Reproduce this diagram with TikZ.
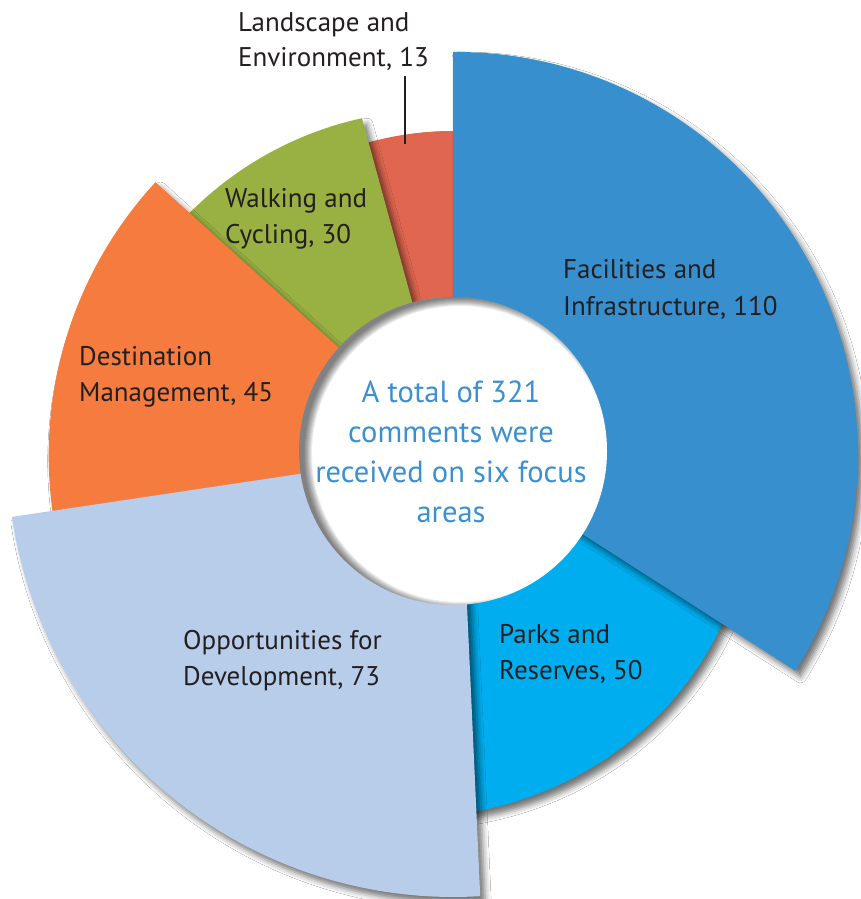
\documentclass[tikz,border=0pt]{standalone}
\usepackage{fontspec}
\setmainfont{PT Sans}
\usetikzlibrary{shadows.blur}
\definecolor{facil}{HTML}{388FCE}
\definecolor{parks}{HTML}{00AEEF}
\definecolor{oppor}{HTML}{B7CDEA}
\definecolor{desti}{HTML}{F57C3E}
\definecolor{walki}{HTML}{99B043}
\definecolor{lands}{HTML}{E06650}
\definecolor{centertext}{HTML}{3A90D0}
\definecolor{labeltext}{HTML}{231F20}
\begin{document}
\begin{tikzpicture}[x=1pt,y=1pt,
  wedgeshadow/.style={blur shadow={shadow xshift=5pt, shadow yshift=-6pt, shadow blur radius=6pt, shadow opacity=55}},
  lbl/.style={inner sep=0pt, anchor=base west, align=left, text=labeltext},
  ctr/.style={inner sep=0pt, anchor=base, text=centertext, font=\fontsize{30.5}{40}\selectfont},
]
\useasboundingbox (0,0) rectangle (861,899);
\fill[white] (0,0) rectangle (861,899);
\begin{scope}[shift={(453,448)}]
  % Parks and Reserves
  \fill[parks, wedgeshadow] (0,0) -- plot[domain=-29:-95, samples=80] (\x:{320+(-32.7-(\x))*0.7664}) -- cycle;
  % Landscape and Environment
  \fill[lands, wedgeshadow] (0,0) -- plot[domain=85:110, samples=30] (\x:320) -- cycle;
  % Walking and Cycling
  \fill[walki, wedgeshadow] (0,0) -- plot[domain=105.3:142, samples=40] (\x:{345+((\x)-105.3)*0.3106}) -- cycle;
  % Destination Management
  \fill[desti, wedgeshadow] (0,0) -- plot[domain=137.9:195, samples=60] (\x:{401+((\x)-137.9)*0.0786}) -- cycle;
  % Opportunities for Development
  \fill[oppor, wedgeshadow] (7,0) -- plot[domain=-86.5:-171.5, samples=90] (\x:446) -- (0,0) -- cycle;
  % Facilities and Infrastructure
  \fill[facil, wedgeshadow] (0,0) -- plot[domain=90:-32.7, samples=120] (\x:{399+(90-(\x))*0.0652}) -- cycle;
  % centre hole
  \fill[white] (0,0) circle[radius=154pt];
  \begin{scope}
    \clip (0,0) circle[radius=154pt];
    \foreach \k in {0,...,8}{
      \fill[black, opacity=0.07, even odd rule] (0,0) circle[radius=175pt] (7,-3) circle[radius={(156-\k)*1pt}];
    }
  \end{scope}
\end{scope}

\coordinate (leadtop) at (405,823);
\coordinate (leadbot) at (405,755);
\draw[labeltext, line width=1.8pt] (leadtop) -- (leadbot);

\node[lbl, font=\fontsize{27}{35}\selectfont] (landlbl) at (238,832.5) {Landscape and\\Environment, 13};
\node[lbl, font=\fontsize{27}{36}\selectfont] (walklbl) at (225,655) {Walking and\\Cycling, 30};
\node[lbl, font=\fontsize{27}{37}\selectfont] (faclbl) at (563,583) {Facilities and\\Infrastructure, 110};
\node[lbl, font=\fontsize{27}{36}\selectfont] (destlbl) at (79,497) {Destination\\Management, 45};
\node[lbl, font=\fontsize{27}{36}\selectfont] (parklbl) at (499,219) {Parks and\\Reserves, 50};
\node[lbl, font=\fontsize{27}{36}\selectfont] (opplbl) at (183,213) {Opportunities for\\Development, 73};

\node[ctr] (c1) at (451,496) {A total of 321};
\node[ctr] (c2) at (451,456) {comments were};
\node[ctr] (c3) at (451,416) {received on six focus};
\node[ctr] (c4) at (451,376) {areas};
\end{tikzpicture}
\end{document}
